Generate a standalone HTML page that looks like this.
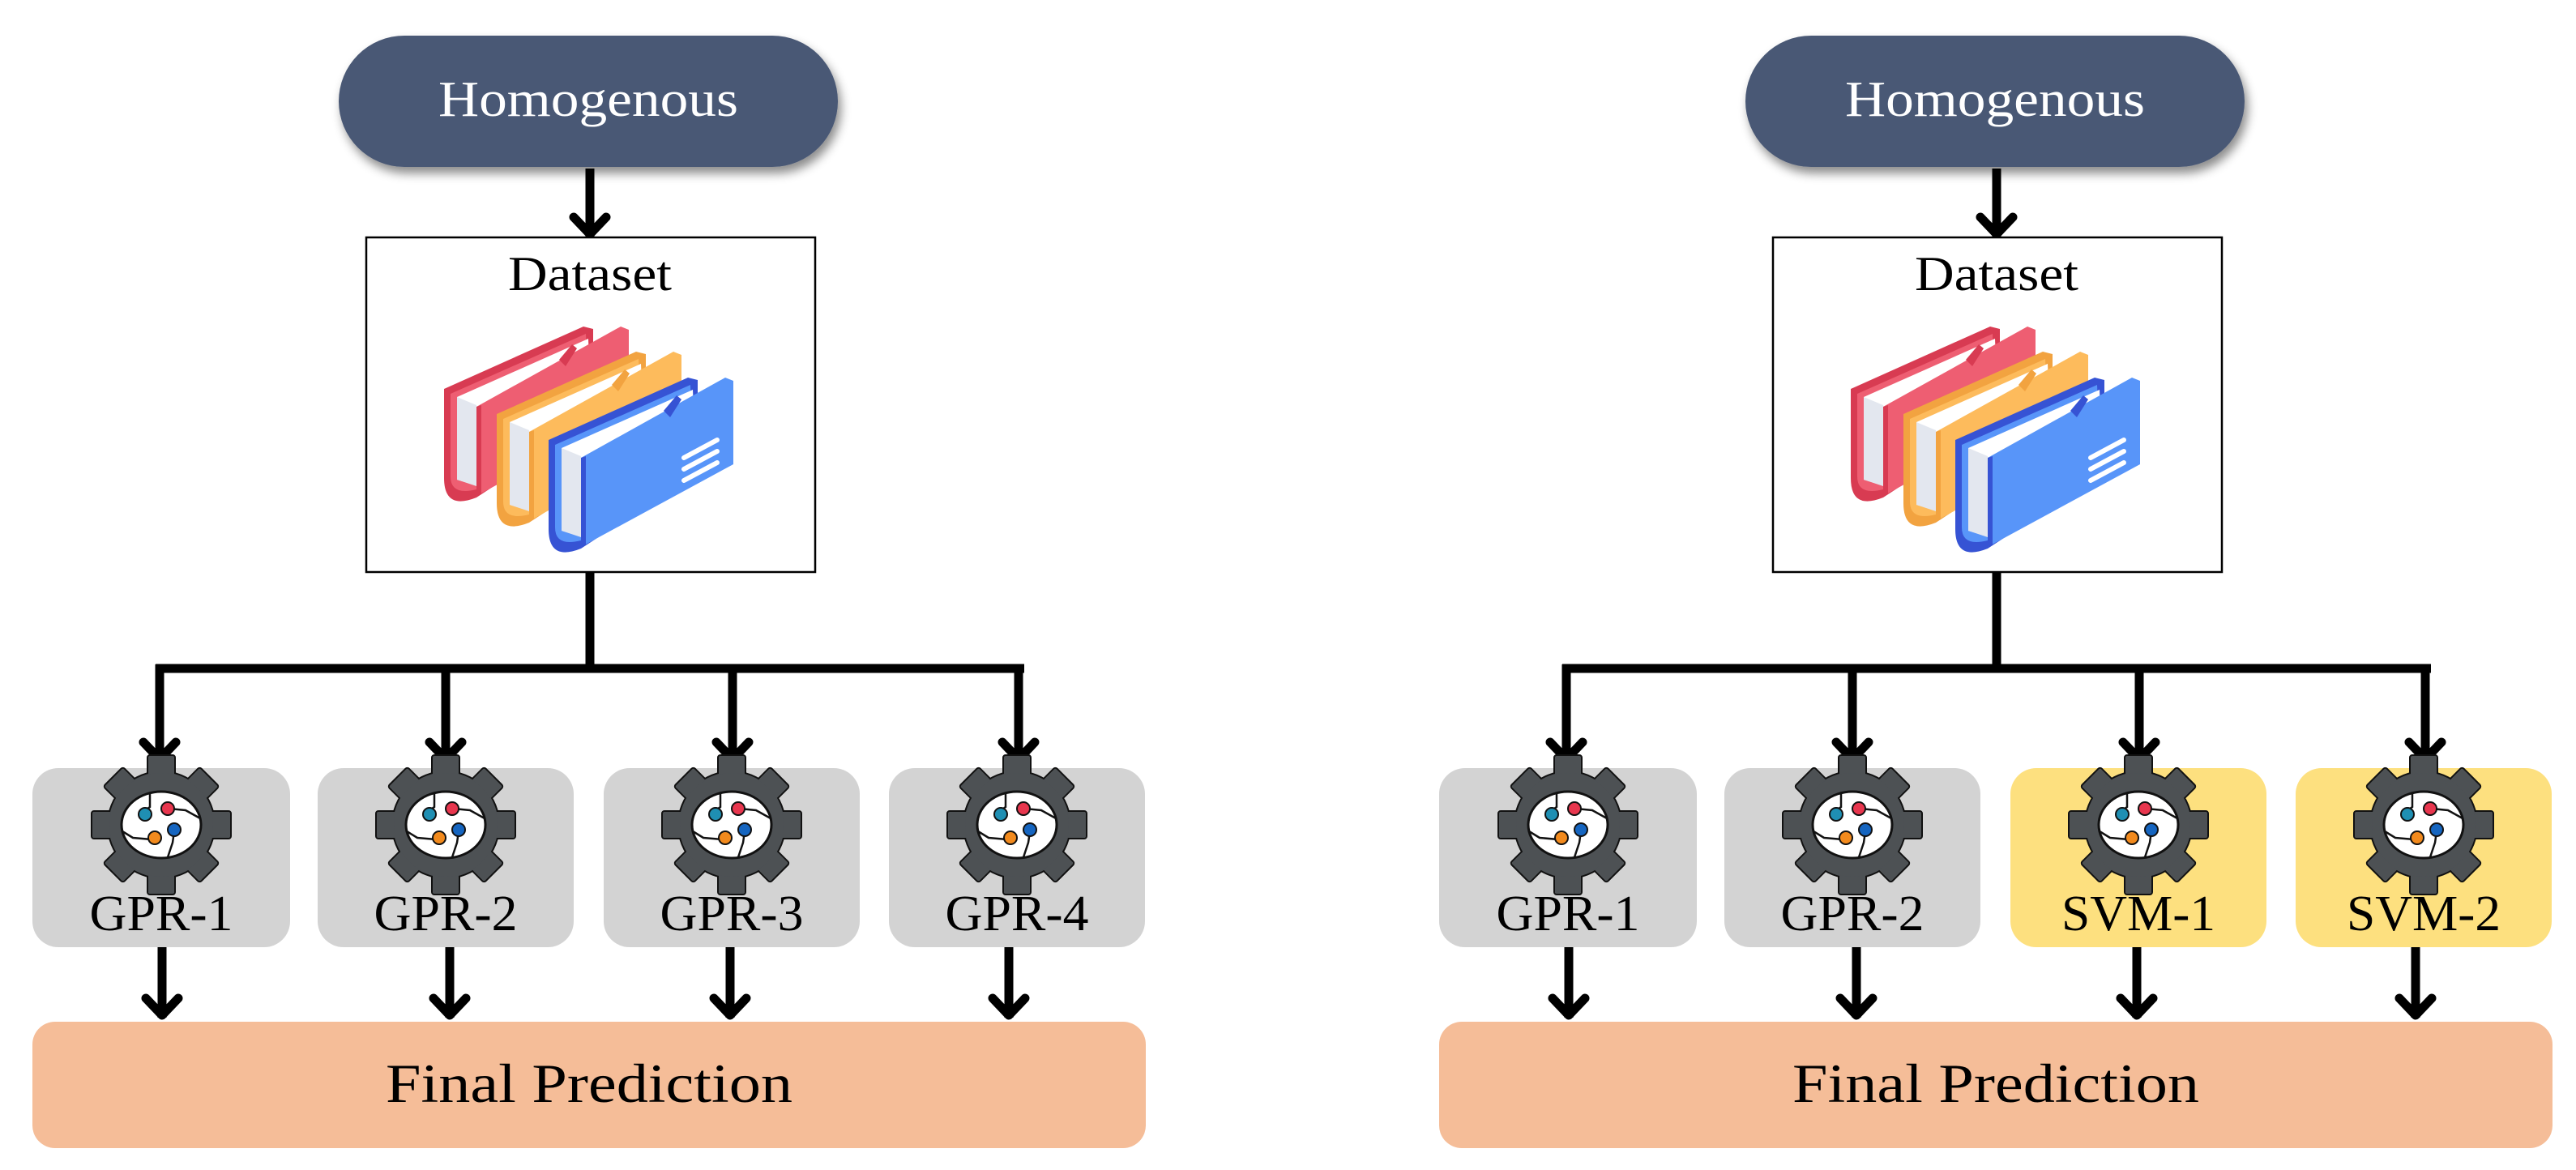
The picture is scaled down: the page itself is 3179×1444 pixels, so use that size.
<!DOCTYPE html>
<html><head><meta charset="utf-8"><style>html,body{margin:0;padding:0;background:#fff}svg{display:block}</style></head>
<body>
<svg width="3179" height="1444" viewBox="0 0 3179 1444" xmlns="http://www.w3.org/2000/svg" font-family="'Liberation Serif', serif">
<defs>
<filter id="sh" x="-10%" y="-20%" width="120%" height="150%"><feDropShadow dx="4" dy="8" stdDeviation="6" flood-color="#000" flood-opacity="0.45"/></filter>
<g id="gear">
  <g fill="#4d5154" stroke="#111" stroke-width="2">
    <rect x="-17" y="-86" width="34" height="30" rx="3"/>
    <rect x="-17" y="56" width="34" height="30" rx="3"/>
    <rect x="-86" y="-17" width="30" height="34" rx="3"/>
    <rect x="56" y="-17" width="30" height="34" rx="3"/>
    <g transform="rotate(45)">
      <rect x="-17" y="-84" width="34" height="30" rx="3"/>
      <rect x="-17" y="54" width="34" height="30" rx="3"/>
      <rect x="-84" y="-17" width="30" height="34" rx="3"/>
      <rect x="54" y="-17" width="30" height="34" rx="3"/>
    </g>
    <circle r="66"/>
  </g>
  <g fill="#4d5154"><rect x="-16" y="-84" width="32" height="32"/><rect x="-16" y="52" width="32" height="32"/><rect x="-84" y="-16" width="32" height="32"/><rect x="52" y="-16" width="32" height="32"/>
  <g transform="rotate(45)"><rect x="-16" y="-82" width="32" height="32"/><rect x="-16" y="50" width="32" height="32"/><rect x="-82" y="-16" width="32" height="32"/><rect x="50" y="-16" width="32" height="32"/></g>
  <circle r="64"/></g>
  <ellipse rx="49" ry="41" fill="#fff" stroke="#111" stroke-width="3"/>
  <g stroke="#111" stroke-width="2.5" fill="none">
    <path d="M-14,-40 L-14,-22 L-20,-18"/>
    <path d="M10,-20 L30,-18 L48,-8"/>
    <path d="M-48,8 L-35,16 L-12,18"/>
    <path d="M16,8 L14,22 L8,40"/>
  </g>
  <circle cx="-20" cy="-13" r="8" fill="#1f8fb3" stroke="#111" stroke-width="2"/>
  <circle cx="8" cy="-20" r="8" fill="#e8364e" stroke="#111" stroke-width="2"/>
  <circle cx="-8" cy="16" r="8" fill="#f28a1d" stroke="#111" stroke-width="2"/>
  <circle cx="16" cy="6" r="8" fill="#1565c0" stroke="#111" stroke-width="2"/>
</g>
<g id="book1">
  <path d="M0,0 L172,-77 L184,-74 L184,40 L40,134 Q0,150 0,110 Z" fill="var(--d)"/>
  <path d="M8,6 L175,-68 L180,40 L40,124 Q8,132 8,108 Z" fill="var(--m)"/>
  <path d="M16,10 L178,-62 L182,40 L42,120 L16,112 Z" fill="#fff"/>
  <path d="M16,10 L40,20 L40,120 L16,112 Z" fill="#e3e7ef"/>
  <path d="M40,22 L218,-77 L228,-73 L228,30 L40,132 Z" fill="var(--m)"/>
  <path d="M40,22 L46,20 L46,130 L40,132 Z" fill="var(--d)"/>
  <path d="M142,-36 L158,-55 L164,-50 L150,-28 Z" fill="var(--d)"/>
</g>
<g id="books">
  <g style="--m:#ee5e72;--d:#d83b52"><use href="#book1" x="0" y="0"/></g>
  <g style="--m:#fdbb5c;--d:#f2a340"><use href="#book1" x="65" y="31"/></g>
  <g style="--m:#5895f9;--d:#3653d4"><use href="#book1" x="129" y="63"/></g>
  <g stroke="#fff" stroke-width="6" stroke-linecap="round"><path d="M296,85 L337,63"/><path d="M296,99 L337,77"/><path d="M296,113 L337,91"/></g>
</g>
<g id="arrow"><path d="M0,0 L0,-50" stroke="#000" stroke-width="11"/><path d="M-20,-24 L0,-3 L20,-24" fill="none" stroke="#000" stroke-width="11" stroke-linecap="round" stroke-linejoin="round"/></g>
<g id="panel">
  <rect x="418" y="44" width="616" height="162" rx="81" fill="#4a5874" filter="url(#sh)"/>
  <text x="726" y="143" font-size="62" fill="#fff" text-anchor="middle" textLength="370" lengthAdjust="spacingAndGlyphs">Homogenous</text>
  <path d="M728,208 L728,250" stroke="#000" stroke-width="11"/>
  <use href="#arrow" x="728" y="292"/>
  <rect x="452" y="293" width="554" height="413" fill="#fff" stroke="#000" stroke-width="2.5"/>
  <text x="728" y="358" font-size="60" text-anchor="middle" textLength="202" lengthAdjust="spacingAndGlyphs">Dataset</text>
  <use href="#books" transform="translate(548,480)"/>
  <path d="M728,706 L728,825 M192,825 L1264,825 M197,820 L197,900 M550,820 L550,900 M904,820 L904,900 M1257,820 L1257,900" stroke="#000" stroke-width="11" fill="none"/>
  <use href="#arrow" x="197" y="940"/><use href="#arrow" x="550" y="940"/><use href="#arrow" x="904" y="940"/><use href="#arrow" x="1257" y="940"/>
  <path d="M200,1169 L200,1220 M555,1169 L555,1220 M901,1169 L901,1220 M1245,1169 L1245,1220" stroke="#000" stroke-width="11"/>
  <use href="#arrow" x="200" y="1256"/><use href="#arrow" x="555" y="1256"/><use href="#arrow" x="901" y="1256"/><use href="#arrow" x="1245" y="1256"/>
  <rect x="40" y="1261" width="1374" height="156" rx="28" fill="#f5bd98"/>
  <text x="727" y="1360" font-size="68" text-anchor="middle" textLength="502" lengthAdjust="spacingAndGlyphs">Final Prediction</text>
</g>
</defs>
<use href="#panel"/>
<g transform="translate(1736,0)"><use href="#panel"/></g>

<rect x="40" y="948" width="318" height="221" rx="32" fill="#d3d3d3"/>
<rect x="392" y="948" width="316" height="221" rx="32" fill="#d3d3d3"/>
<rect x="745" y="948" width="316" height="221" rx="32" fill="#d3d3d3"/>
<rect x="1097" y="948" width="316" height="221" rx="32" fill="#d3d3d3"/>
<use href="#gear" x="199" y="1018"/><use href="#gear" x="550" y="1018"/><use href="#gear" x="903" y="1018"/><use href="#gear" x="1255" y="1018"/>
<g font-size="62" text-anchor="middle">
<text x="199" y="1148" textLength="177" lengthAdjust="spacingAndGlyphs">GPR-1</text>
<text x="550" y="1148" textLength="177" lengthAdjust="spacingAndGlyphs">GPR-2</text>
<text x="903" y="1148" textLength="177" lengthAdjust="spacingAndGlyphs">GPR-3</text>
<text x="1255" y="1148" textLength="177" lengthAdjust="spacingAndGlyphs">GPR-4</text>
</g>
<g transform="translate(1736,0)">
<rect x="40" y="948" width="318" height="221" rx="32" fill="#d3d3d3"/>
<rect x="392" y="948" width="316" height="221" rx="32" fill="#d3d3d3"/>
<rect x="745" y="948" width="316" height="221" rx="32" fill="#fde07f"/>
<rect x="1097" y="948" width="316" height="221" rx="32" fill="#fde07f"/>
<use href="#gear" x="199" y="1018"/><use href="#gear" x="550" y="1018"/><use href="#gear" x="903" y="1018"/><use href="#gear" x="1255" y="1018"/>
<g font-size="62" text-anchor="middle">
<text x="199" y="1148" textLength="177" lengthAdjust="spacingAndGlyphs">GPR-1</text>
<text x="550" y="1148" textLength="177" lengthAdjust="spacingAndGlyphs">GPR-2</text>
<text x="903" y="1148" textLength="190" lengthAdjust="spacingAndGlyphs">SVM-1</text>
<text x="1255" y="1148" textLength="190" lengthAdjust="spacingAndGlyphs">SVM-2</text>
</g>
</g>
</svg>
</body></html>
